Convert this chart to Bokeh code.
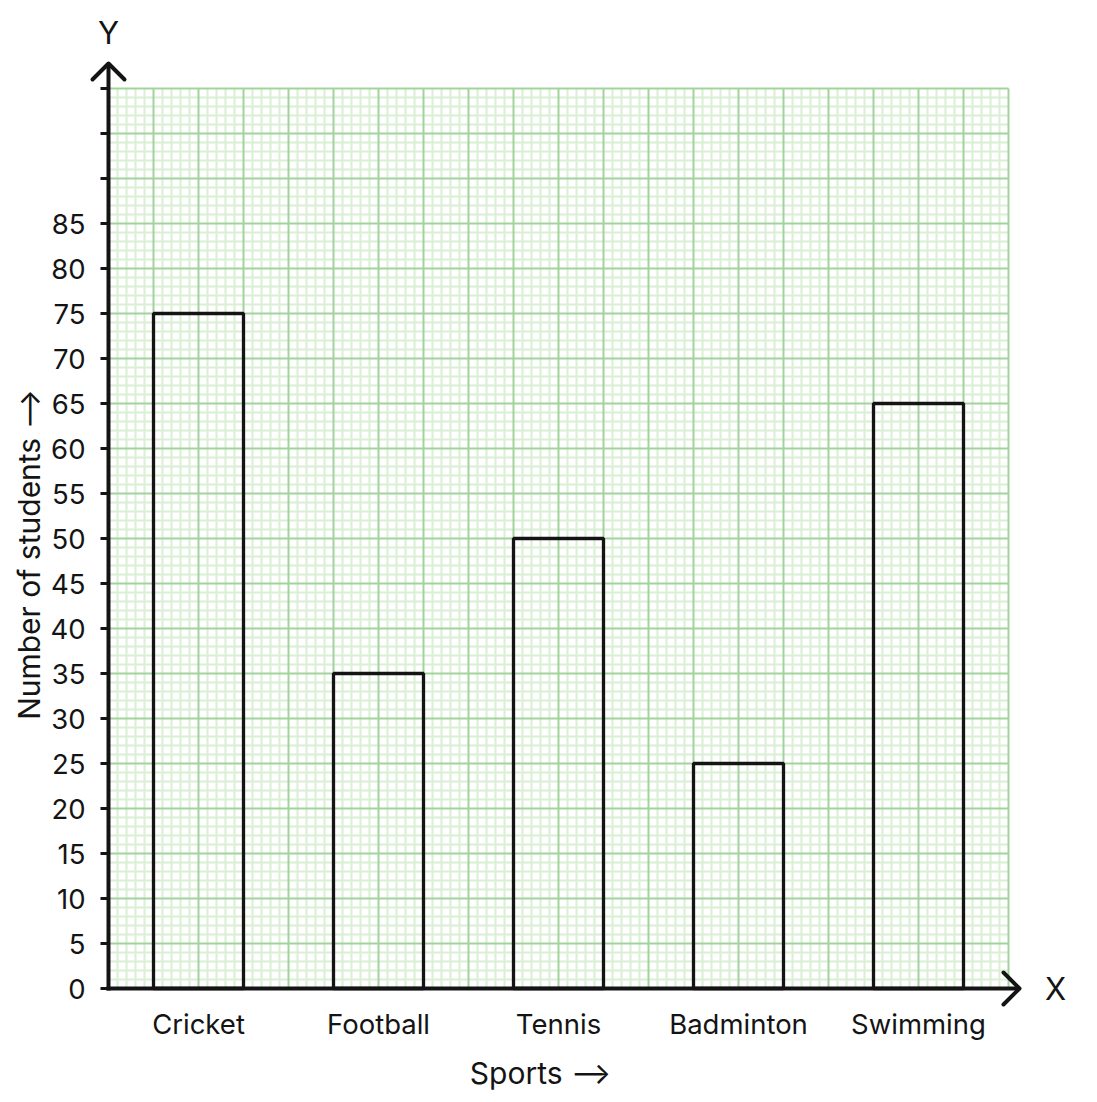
import numpy as np
from bokeh.plotting import figure
from bokeh.models import Range1d
from bokeh.embed import file_html
from bokeh.resources import INLINE
from bokeh.core.properties import value

# ---- data ----
sports = ["Cricket", "Football", "Tennis", "Badminton", "Swimming"]
students = [75, 35, 50, 25, 65]
bar_centers = [2, 6, 10, 14, 18]
bar_width = 2
y_ticks = list(range(0, 101, 5))
y_tick_labels = [str(t) if t <= 85 else "" for t in y_ticks]
x_title = "Sports \u27f6"
y_title = "Number of students \u27f6"

X_MAX = 20
Y_MAX = 100
FONT = "Inter"
INK = "#141414"
MAJOR = "#a3d39c"
MINOR = "#d9f0d5"

PX_X = 45.0   # px per x unit
PX_Y = 9.0    # px per y unit
X0_PX = 108.0  # pixel of x = 0
Y0_PX = 988.0  # pixel of y = 0
W, H = 1090, 1096


def dx(px):
    return (px - X0_PX) / PX_X


def dy(py):
    return (Y0_PX - py) / PX_Y


p = figure(width=W, height=H, output_backend="svg", toolbar_location=None,
           x_range=Range1d(dx(0), dx(W)), y_range=Range1d(dy(H), dy(0)),
           min_border=0, min_border_left=0, min_border_right=0,
           min_border_top=0, min_border_bottom=0)
p.axis.visible = False
p.xgrid.visible = False
p.ygrid.visible = False
p.outline_line_color = None
p.background_fill_color = "white"

# ---- graph-paper grid ----
minor_x = [v for v in np.round(np.arange(0, X_MAX + 0.001, 0.2), 4) if abs(v - round(v)) > 1e-6]
minor_y = [v for v in range(0, Y_MAX + 1) if v % 5 != 0]
major_x = list(range(0, X_MAX + 1))
major_y = list(range(0, Y_MAX + 1, 5))

p.segment(x0=minor_x, y0=0, x1=minor_x, y1=Y_MAX, line_color=MINOR, line_width=2)
p.segment(x0=0, y0=minor_y, x1=X_MAX, y1=minor_y, line_color=MINOR, line_width=2)
p.segment(x0=major_x, y0=0, x1=major_x, y1=Y_MAX, line_color=MAJOR, line_width=2)
p.segment(x0=0, y0=major_y, x1=X_MAX, y1=major_y, line_color=MAJOR, line_width=2)

# ---- bars ----
p.vbar(x=bar_centers, top=students, bottom=0, width=bar_width,
       fill_color=None, line_color=INK, line_width=3.3)

# ---- axis lines with arrows ----
y_tip = dy(63)
x_tip = dx(1019)
arm_x = 16 / PX_X
arm_y = 16 / PX_Y
p.segment(x0=[0], y0=[dy(990)], x1=[0], y1=[y_tip], line_color=INK, line_width=4)
p.segment(x0=[dx(106)], y0=[0], x1=[x_tip], y1=[0], line_color=INK, line_width=4)
p.line(x=[-arm_x, 0, arm_x], y=[y_tip - arm_y, y_tip, y_tip - arm_y],
       line_color=INK, line_width=4, line_cap="round", line_join="round")
p.line(x=[x_tip - arm_x, x_tip, x_tip - arm_x], y=[arm_y, 0, -arm_y],
       line_color=INK, line_width=4, line_cap="round", line_join="round")

# ---- y ticks and tick labels ----
p.segment(x0=dx(100), y0=y_ticks, x1=0, y1=y_ticks, line_color=INK, line_width=3)
p.text(x=dx(85), y=y_ticks, text=y_tick_labels, text_align="right",
       text_baseline="middle", text_font=value(FONT), text_font_size="27.5px",
       text_color=INK)

# ---- category labels ----
p.text(x=bar_centers, y=dy(1023), text=sports, text_align="center",
       text_baseline="middle", text_font=value(FONT), text_font_size="27.5px",
       text_color=INK)

# ---- titles ----
p.text(x=[dx(28)], y=[dy(554)], text=[y_title], angle=np.pi / 2,
       text_align="center", text_baseline="middle", text_font=value(FONT),
       text_font_size="30px", text_color=INK)
p.text(x=[dx(540)], y=[dy(1072)], text=[x_title], text_align="center",
       text_baseline="middle", text_font=value(FONT), text_font_size="30px",
       text_color=INK)
p.text(x=[dx(1055)], y=[dy(988)], text=["X"], text_align="center",
       text_baseline="middle", text_font=value(FONT), text_font_size="31px",
       text_color=INK)
p.text(x=[dx(108)], y=[dy(32)], text=["Y"], text_align="center",
       text_baseline="middle", text_font=value(FONT), text_font_size="31px",
       text_color=INK)

open("out.html", "w").write(file_html(p, INLINE))
